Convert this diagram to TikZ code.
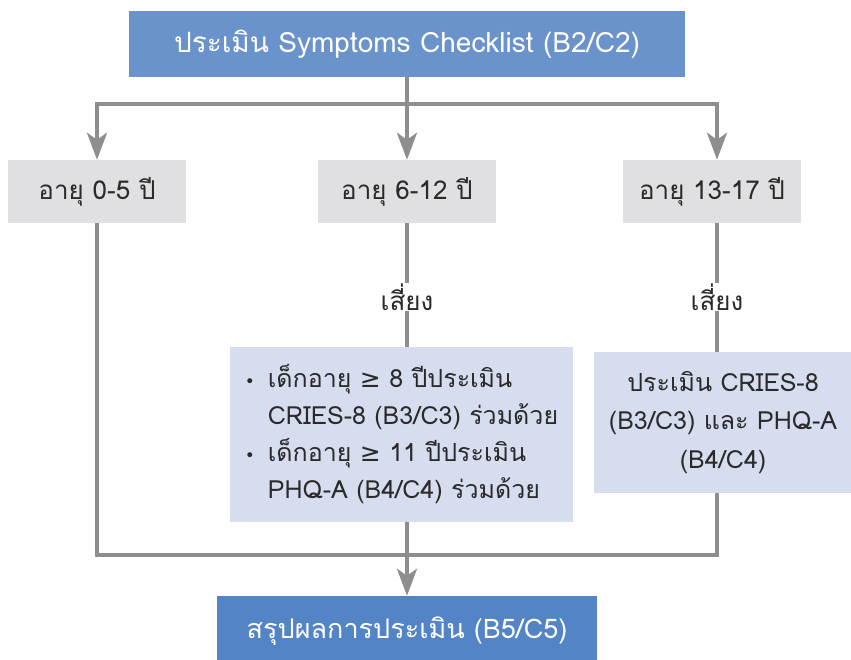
\documentclass[tikz,border=0pt]{standalone}
\usepackage{fontspec}
\usepackage{xcolor}
\usetikzlibrary{arrows.meta}
\setmainfont[Script=Thai]{Loma}
\newfontfamily\symfont{DejaVu Sans}

\definecolor{headblue}{HTML}{6A93CC}
\definecolor{footblue}{HTML}{5384C5}
\definecolor{agegray}{HTML}{E0E0E2}
\definecolor{paleblue}{HTML}{D5DDEF}
\definecolor{linegray}{HTML}{8E8E90}
\definecolor{inkgray}{HTML}{2A2A2A}

\newcommand{\dotmark}{{\symfont\fontsize{17}{37}\selectfont •}\hspace{13pt}}

\begin{document}
\begin{tikzpicture}[x=1pt,y=-1pt,
	every node/.style={font=\fontsize{25}{37}\selectfont, inner sep=0pt},
	bluebox/.style={fill=headblue, text=white, minimum height=66pt},
	agebox/.style={fill=agegray, text=inkgray, minimum width=178pt, minimum height=63pt, font=\fontsize{26}{37}\selectfont},
	notebox/.style={fill=paleblue, text=inkgray},
	link/.style={draw=linegray, line width=4pt},
	arr/.style={link, -{Stealth[length=27pt, width=20pt, inset=7pt]}}]
	\useasboundingbox (0,0) rectangle (851,660);

	% boxes
	\node[bluebox, minimum width=556pt, font=\fontsize{28}{37}\selectfont] (check) at (407,44) {ประเมิน Symptoms Checklist (B2/C2)};
	\node[agebox] (age1) at (97,191.5) {อายุ 0-5 ปี};
	\node[agebox] (age2) at (407,191.5) {อายุ 6-12 ปี};
	\node[agebox] (age3) at (712,191.5) {อายุ 13-17 ปี};
	\node[fill=white, text=inkgray, font=\fontsize{26}{37}\selectfont] (risk1) at (407,297) {เสี่ยง};
	\node[fill=white, text=inkgray, font=\fontsize{26}{37}\selectfont] (risk2) at (717,297) {เสี่ยง};
	\node[notebox, minimum width=343pt, minimum height=175pt, align=left] (note1) at (401.5,434.5)
		{\dotmark เด็กอายุ {\symfont ≥} 8 ปีประเมิน\\
		\phantom{\dotmark}CRIES-8 (B3/C3) ร่วมด้วย\\
		\dotmark เด็กอายุ {\symfont ≥} 11 ปีประเมิน\\
		\phantom{\dotmark}PHQ-A (B4/C4) ร่วมด้วย};
	\node[notebox, minimum width=258pt, minimum height=141pt, align=center, font=\fontsize{25}{38.5}\selectfont] (note2) at (723,422.5)
		{ประเมิน CRIES-8\\(B3/C3) และ PHQ-A\\(B4/C4)};
	\node[bluebox, fill=footblue, minimum width=380pt, minimum height=70pt, font=\fontsize{27}{37}\selectfont] (summary) at (407,631) {สรุปผลการประเมิน (B5/C5)};

	% connectors
	\coordinate (fork) at (407,104);
	\coordinate (merge) at (407,555);
	\draw[link] (check.south) -- (fork);
	\draw[arr] (fork) -| (age1.north);
	\draw[arr] (fork) -- (age2.north);
	\draw[arr] (fork) -| (risk2 |- age3.north);
	\draw[link] (age2.south) -- (risk1.north);
	\draw[link] (risk1.south) -- (risk1 |- note1.north);
	\draw[link] (risk2 |- age3.south) -- (risk2.north);
	\draw[link] (risk2.south) -- (risk2 |- note2.north);
	\draw[link] (age1.south) |- (merge);
	\draw[link] (risk2 |- note2.south) |- (merge);
	\draw[arr] (risk1 |- note1.south) -- (summary.north);
\end{tikzpicture}
\end{document}
